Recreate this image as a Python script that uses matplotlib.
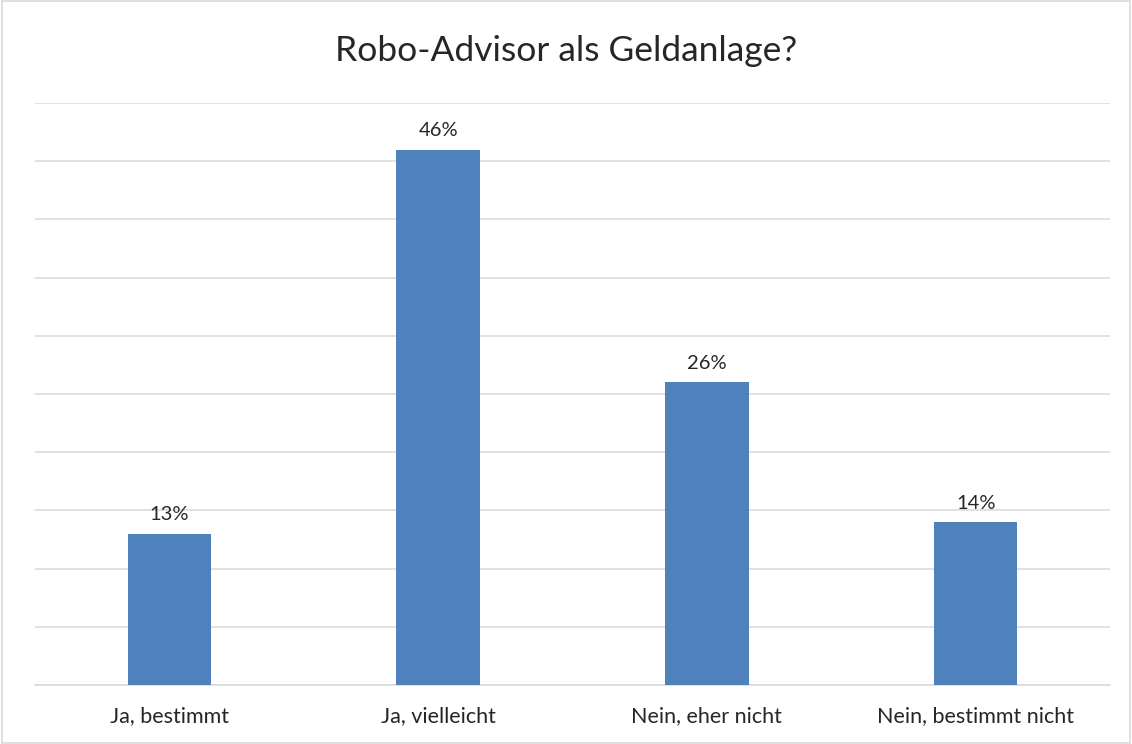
import matplotlib
matplotlib.use("Agg")
import matplotlib.pyplot as plt
from matplotlib.patches import Rectangle

categories = ["Ja, bestimmt", "Ja, vielleicht", "Nein, eher nicht", "Nein, bestimmt nicht"]
values = [13, 46, 26, 14]
labels = ["13%", "46%", "26%", "14%"]
title = "Robo-Advisor als Geldanlage?"

plt.rcParams['font.family'] = ['Lato', 'DejaVu Sans']

fig = plt.figure(figsize=(11.32, 7.44), dpi=100)
ax = fig.add_axes([35/1132, 59/744, 1075/1132, 582/744])

x = range(len(categories))
ax.bar(x, values, width=0.31, color="#4F81BD", zorder=3)
for xi, v, lab in zip(x, values, labels):
    ax.text(xi, v + 0.9, lab, ha="center", va="bottom", fontsize=14.5, color="#262626")

ax.set_xlim(-0.5, len(categories) - 0.5)
ax.set_ylim(0, 50)
ax.set_yticks(range(0, 51, 5))
ax.yaxis.grid(True, color="#D9D9D9", linewidth=1.1, zorder=0)
ax.tick_params(axis="y", left=False, labelleft=False)
ax.tick_params(axis="x", length=0, pad=15, labelsize=15.5, labelcolor="#262626")
ax.set_xticks(list(x))
ax.set_xticklabels(categories)
for s in ["top", "right", "left"]:
    ax.spines[s].set_visible(False)
ax.spines["bottom"].set_color("#D9D9D9")
ax.spines["bottom"].set_linewidth(1.1)

fig.text(0.5, 0.932, title, ha="center", va="center", fontsize=25.5, color="#262626")
fig.add_artist(Rectangle((0.0015, 0.002), 0.997, 0.996, transform=fig.transFigure,
                         fill=False, edgecolor="#D9D9D9", linewidth=1.2))

fig.savefig("out.png", dpi=100)
